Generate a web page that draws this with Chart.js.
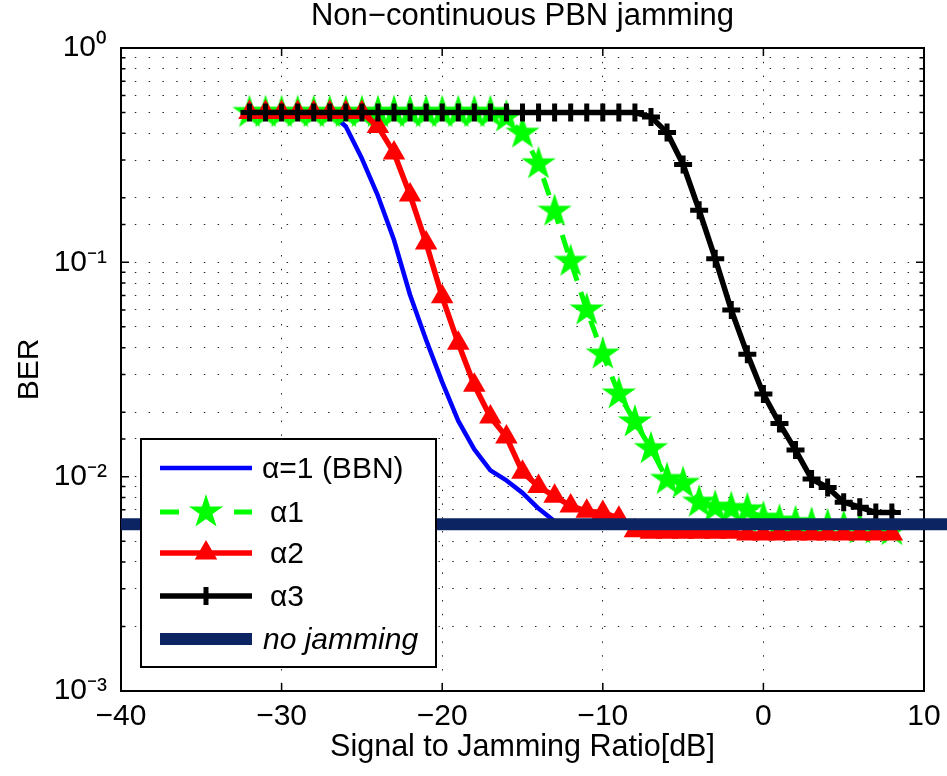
<!DOCTYPE html>
<html><head><meta charset="utf-8">
<script src="https://cdn.jsdelivr.net/npm/chart.js@4.4.1/dist/chart.umd.min.js"></script>
<style>
html,body{margin:0;padding:0;background:#fff;}
#wrap{position:relative;width:947px;height:776px;overflow:hidden;}
#c{position:absolute;left:0;top:0;}
.lg{position:absolute;font-family:'Liberation Sans',Arial,Helvetica,sans-serif;font-size:30px;line-height:1;color:#000;white-space:pre;transform:translateY(-50%);}
</style></head><body>
<div id="wrap"><canvas id="c" width="947" height="776"></canvas></div>
<script>
// ---------------- data ----------------
const snr = [-32,-31,-30,-29,-28,-27,-26,-25,-24,-23,-22,-21,-20,-19,-18,-17,-16,-15,-14,-13,-12,-11,-10,-9,-8,-7,-6,-5,-4,-3,-2,-1,0,1,2,3,4,5,6,7,8];
const berBBN = [0.5,0.5,0.5,0.5,0.5,0.5,0.43,0.305,0.204,0.127,0.0704,0.0434,0.0276,0.0182,0.0134,0.0107,0.0096,0.0084,0.0071,0.0062,
  0.0059,0.0059,0.0059,0.0059,0.0059,0.0059,0.0059,0.0059,0.0059,0.0059,0.0059,0.0059,0.0059,0.0059,0.0059,0.0059,0.0059,0.0059,0.0059,0.0059,0.0059];
const berAlpha1 = [0.5,0.5,0.5,0.5,0.5,0.5,0.5,0.5,0.5,0.5,0.5,0.5,0.5,0.5,0.5,0.5,
  0.476,0.40,0.288,0.173,0.101,0.0599,0.0373,0.0243,0.018,0.0135,0.0097,0.0093,0.0076,0.0072,0.0071,0.0070,
  0.0064,0.0062,0.0061,0.0060,0.0059,0.0058,0.0057,0.0057,0.0056];
const berAlpha2 = [0.5,0.5,0.5,0.5,0.5,0.5,0.5,0.5,
  0.43,0.324,0.206,0.123,0.069,0.0419,0.0267,0.019,0.0153,0.0105,0.009,0.0081,0.0073,0.0069,0.0068,0.0064,0.0056,0.0055,0.0055,
  0.0055,0.0055,0.0055,0.0055,0.0054,0.0054,0.0054,0.0054,0.0054,0.0054,0.0054,0.0054,0.0054,0.0054];
const berAlpha3 = [0.5,0.5,0.5,0.5,0.5,0.5,0.5,0.5,0.5,0.5,0.5,0.5,0.5,0.5,0.5,0.5,0.5,0.5,0.5,0.5,0.5,0.5,0.5,0.5,0.5,
  0.477,0.403,0.286,0.175,0.104,0.0599,0.0373,0.0243,0.0177,0.0133,0.00975,0.0089,0.0076,0.0072,0.0068,0.0068];
const noJamX = [-40, 12];
const noJamBER = [0.006, 0.006];
const seriesLabels = ['α=1 (BBN)', 'α1', 'α2', 'α3', 'no jamming'];
const xTickValues = [-40,-30,-20,-10,0,10];
const yMajorTicks = [1, 0.1, 0.01, 0.001];
const yTickLabels = ['10⁰', '10⁻¹', '10⁻²', '10⁻³'];
const chartTitle = 'Non−continuous PBN jamming';
const xTitle = 'Signal to Jamming Ratio[dB]';
const yTitle = 'BER';

// ---------------- helpers ----------------
const FONT = "'Liberation Sans', Arial, Helvetica, sans-serif";
function pts(xs, ys){ return xs.map((x,i)=>({x:x, y:ys[i]})); }
function makeStar(R, color){
  const c=document.createElement('canvas'); const s=Math.ceil(2*R+2); c.width=s; c.height=s;
  const g=c.getContext('2d'); g.fillStyle=color; g.beginPath();
  const r=R*0.382, cx=s/2, cy=s/2;
  for(let k=0;k<10;k++){const rr=(k%2?r:R); const ang=-Math.PI/2+k*Math.PI/5;
    const px=cx+rr*Math.cos(ang), py=cy+rr*Math.sin(ang); if(k) g.lineTo(px,py); else g.moveTo(px,py);}
  g.closePath(); g.fill(); return c;
}
const starImg = makeStar(18, '#00ff00');
function majorIndex(v){ for(let i=0;i<yMajorTicks.length;i++){ if(Math.abs(Math.log10(v)-Math.log10(yMajorTicks[i]))<1e-6) return i;} return -1; }
function fmtY(v){ const i=majorIndex(v); return i>=0?yTickLabels[i]:''; }
function fmtX(v){ return xTickValues.includes(v) ? String(v).replace('-', '−') : ''; }

const colors = {bbn:'#0000ff', a1:'#00ff00', a2:'#ff0000', a3:'#000000', nj:'#0c2462'};

// legend geometry (layout only)
const LG = {x0:141, y0:439, x1:436, y1:667, lineX0:160, lineX1:252, mk:206,
            rows:[468,512,553,596,639], textX:[262,270,270,270,263]};

const framePlugin = {
  id:'frame',
  beforeDatasetsDraw(chart){
    const {ctx, chartArea:a, scales:{x,y}} = chart;
    ctx.save();
    ctx.strokeStyle='#000'; ctx.lineWidth=1.5; ctx.setLineDash([]);
    ctx.beginPath();
    x.ticks.forEach(t=>{ const px=x.getPixelForValue(t.value);
      ctx.moveTo(px,a.bottom); ctx.lineTo(px,a.bottom-8); ctx.moveTo(px,a.top); ctx.lineTo(px,a.top+8); });
    y.ticks.forEach(t=>{ const py=y.getPixelForValue(t.value); const L=majorIndex(t.value)>=0?8:4.5;
      ctx.moveTo(a.left,py); ctx.lineTo(a.left+L,py); ctx.moveTo(a.right,py); ctx.lineTo(a.right-L,py); });
    ctx.stroke();
    ctx.lineWidth=2; ctx.strokeRect(a.left,a.top,a.right-a.left,a.bottom-a.top);
    ctx.restore();
  },
  afterDraw(chart){
    const ctx=chart.ctx;
    ctx.save();
    ctx.fillStyle='#fff'; ctx.fillRect(LG.x0,LG.y0,LG.x1-LG.x0,LG.y1-LG.y0);
    ctx.strokeStyle='#000'; ctx.lineWidth=2; ctx.strokeRect(LG.x0,LG.y0,LG.x1-LG.x0,LG.y1-LG.y0);
    ctx.lineCap='butt';
    const line=(y,color,w,dash)=>{ ctx.beginPath(); ctx.setLineDash(dash||[]); ctx.strokeStyle=color; ctx.lineWidth=w;
      ctx.moveTo(LG.lineX0,y); ctx.lineTo(LG.lineX1,y); ctx.stroke(); ctx.setLineDash([]); };
    const r=LG.rows;
    line(r[0], colors.bbn, 4.5);
    line(r[1], colors.a1, 5, [19,55]);
    ctx.drawImage(starImg, LG.mk-starImg.width/2, r[1]-starImg.height/2);
    line(r[2], colors.a2, 5.5);
    ctx.fillStyle=colors.a2; ctx.beginPath();
    for(let k=0;k<3;k++){ const ang=k*2*Math.PI/3; const px=LG.mk+Math.sin(ang)*13, py=r[2]-Math.cos(ang)*13; if(k) ctx.lineTo(px,py); else ctx.moveTo(px,py);} ctx.closePath(); ctx.fill();
    line(r[3], colors.a3, 5.5);
    ctx.beginPath(); ctx.strokeStyle=colors.a3; ctx.lineWidth=5;
    ctx.moveTo(LG.mk, r[3]-9); ctx.lineTo(LG.mk, r[3]+9); ctx.stroke();
    line(r[4], colors.nj, 12);
    ctx.restore();
  }
};

const chart = new Chart(document.getElementById('c'), {
  type:'line',
  data:{datasets:[
    {label:seriesLabels[4], data:pts(noJamX,noJamBER), borderColor:colors.nj, borderWidth:12, pointRadius:0, clip:false, order:0, borderCapStyle:'butt'},
    {label:seriesLabels[3], data:pts(snr,berAlpha3), borderColor:colors.a3, borderWidth:5.5, pointStyle:'cross', pointRadius:9, pointBorderWidth:5, pointBorderColor:colors.a3, pointBackgroundColor:colors.a3, order:1, borderJoinStyle:'round'},
    {label:seriesLabels[2], data:pts(snr,berAlpha2), borderColor:colors.a2, borderWidth:5.5, pointStyle:'triangle', pointRadius:13, pointBorderWidth:0, pointBackgroundColor:colors.a2, order:2, borderJoinStyle:'round'},
    {label:seriesLabels[1], data:pts(snr,berAlpha1), borderColor:colors.a1, borderWidth:5, borderDash:[18,12], pointStyle:starImg, pointRadius:18, order:3, borderJoinStyle:'round'},
    {label:seriesLabels[0], data:pts(snr,berBBN), borderColor:colors.bbn, borderWidth:4.5, pointRadius:0, order:4, borderJoinStyle:'round'}
  ]},
  options:{
    responsive:false, animation:false, devicePixelRatio:1,
    layout:{padding:{left:0,right:22,top:0,bottom:0}},
    plugins:{
      legend:{display:false}, tooltip:{enabled:false},
      title:{display:true, fullSize:false, text:chartTitle, color:'#000', font:{family:FONT,size:31,weight:'normal',lineHeight:1}, padding:{top:1,bottom:16}}
    },
    scales:{
      x:{type:'linear', min:-40, max:10,
        ticks:{stepSize:10, color:'#000', font:{family:FONT,size:30,lineHeight:1}, padding:11, maxRotation:0, autoSkip:false, callback:(v)=>fmtX(v)},
        grid:{color:'rgba(0,0,0,0.85)', lineWidth:1, drawTicks:false},
        border:{display:false, dash:[1.5,12.3]},
        title:{display:true, text:xTitle, color:'#000', font:{family:FONT,size:30.5,lineHeight:1}, padding:{top:0,bottom:13}},
        afterFit(s){ s.height=85; s.paddingLeft=0; s.paddingRight=0; }
      },
      y:{type:'logarithmic', min:0.001, max:1,
        ticks:{color:'#000', font:{family:FONT,size:30,lineHeight:1}, padding:14, autoSkip:false, callback:(v)=>fmtY(v)},
        grid:{color:'rgba(0,0,0,0.85)', lineWidth:1, drawTicks:false},
        border:{display:false, dash:[1.5,12.3]},
        title:{display:true, text:yTitle, color:'#000', font:{family:FONT,size:30,lineHeight:1}, padding:{top:15,bottom:0}},
        afterFit(s){ s.width=121; s.paddingTop=0; s.paddingBottom=0; }
      }
    }
  },
  plugins:[framePlugin]
});

// legend texts as real DOM text
const wrap=document.getElementById('wrap');
seriesLabels.forEach((t,i)=>{
  const s=document.createElement('span'); s.className='lg'; s.textContent=t;
  s.style.left=LG.textX[i]+'px'; s.style.top=LG.rows[i]+'px';
  if(i===4) s.style.fontStyle='italic';
  wrap.appendChild(s);
});
</script>
</body></html>
